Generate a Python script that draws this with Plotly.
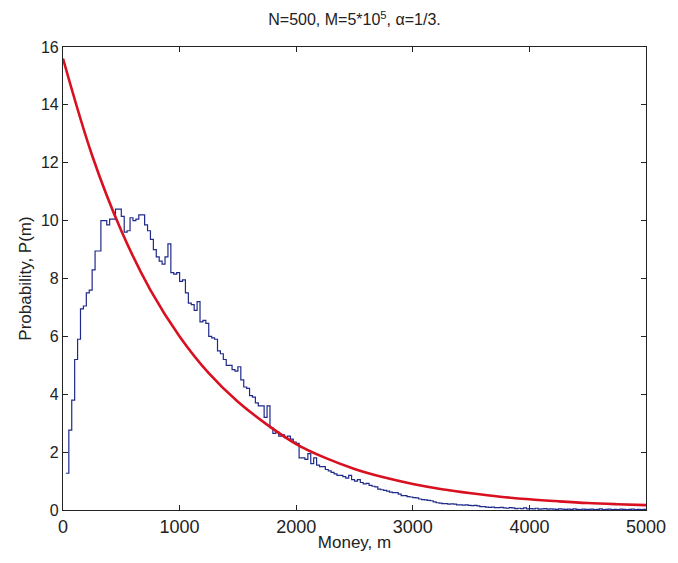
import plotly.graph_objects as go

# Histogram (stairs): bin start (money) and probability values
hist_m = [25 * i for i in range(1, 201)]
hist_p = [
    1.27, 2.76, 3.80, 5.20, 5.90, 6.95, 7.05, 7.50, 7.60, 8.30,
    8.95, 8.95, 10.00, 10.00, 9.85, 10.05, 10.05, 10.40, 10.40, 10.15,
    9.60, 9.65, 10.10, 10.00, 10.05, 10.20, 10.20, 9.85, 9.65, 9.35,
    9.00, 8.75, 8.60, 8.50, 8.75, 9.20, 8.20, 8.15, 8.20, 7.90,
    7.95, 7.50, 7.15, 7.10, 6.90, 7.20, 6.50, 6.55, 6.45, 6.00,
    5.95, 5.90, 5.50, 5.40, 5.20, 5.00, 5.00, 4.85, 4.80, 4.95,
    4.50, 4.25, 4.20, 3.95, 3.90, 3.70, 3.60, 3.60, 3.20, 3.60,
    2.85, 2.65, 2.70, 2.55, 2.60, 2.50, 2.55, 2.45, 2.35, 2.30,
    1.80, 1.80, 1.75, 1.95, 1.60, 1.80, 1.55, 1.50, 1.50, 1.40,
    1.35, 1.30, 1.25, 1.20, 1.20, 1.15, 1.10, 1.20, 1.05, 1.00,
    1.05, 0.95, 0.90, 0.92, 0.85, 0.82, 0.80, 0.72, 0.70, 0.68,
    0.65, 0.62, 0.60, 0.60, 0.55, 0.50, 0.50, 0.46, 0.45, 0.43,
    0.42, 0.38, 0.36, 0.35, 0.33, 0.32, 0.28, 0.25, 0.24, 0.22,
    0.22, 0.20, 0.21, 0.20, 0.18, 0.18, 0.17, 0.18, 0.16, 0.15,
    0.16, 0.14, 0.12, 0.12, 0.10, 0.09, 0.10, 0.08, 0.08, 0.09,
    0.07, 0.06, 0.08, 0.07, 0.05, 0.06, 0.05, 0.07, 0.04, 0.05,
    0.04, 0.06, 0.03, 0.04, 0.05, 0.03, 0.04, 0.03, 0.02, 0.04,
    0.03, 0.02, 0.03, 0.02, 0.04, 0.02, 0.01, 0.03, 0.02, 0.02,
    0.03, 0.01, 0.02, 0.04, 0.01, 0.02, 0.03, 0.01, 0.02, 0.01,
    0.03, 0.02, 0.01, 0.02, 0.03, 0.01, 0.02, 0.01, 0.02, 0.02,
]

# Theoretical curve
fit_m = [0, 250, 500, 750, 1000, 1250, 1500, 1750, 2000, 2250, 2500,
         2750, 3000, 3250, 3500, 3750, 4000, 4250, 4500, 4750, 5000]
fit_p = [15.6, 12.25, 9.65, 7.6, 6.0, 4.73, 3.74, 2.95, 2.28, 1.80, 1.42,
         1.13, 0.90, 0.72, 0.58, 0.46, 0.37, 0.30, 0.24, 0.20, 0.17]

x_ticks = [0, 1000, 2000, 3000, 4000, 5000]
y_ticks = [0, 2, 4, 6, 8, 10, 12, 14, 16]

fig = go.Figure()
fig.add_trace(go.Scatter(x=hist_m, y=hist_p, mode="lines",
                         line=dict(color="#1f2a8a", width=1.2, shape="hv"),
                         showlegend=False))
fig.add_trace(go.Scatter(x=fit_m, y=fit_p, mode="lines",
                         line=dict(color="#d81020", width=2.6, shape="spline", smoothing=1.0),
                         showlegend=False))

font_family = "Liberation Sans, Arial, sans-serif"
fig.update_layout(
    width=678, height=563,
    margin=dict(l=63, r=24, t=47, b=53),
    paper_bgcolor="white", plot_bgcolor="white",
    font=dict(family=font_family, color="#222"),
    title=dict(text="N=500, M=5*10<sup>5</sup>, α=1/3.",
               x=0.5, xref="paper", xanchor="center",
               y=0.975, yref="container", yanchor="top",
               font=dict(size=16, family=font_family, color="#222")),
)
fig.update_xaxes(range=[0, 5000], tickvals=x_ticks,
                 ticks="inside", ticklen=5, tickcolor="#222",
                 showline=True, linecolor="#222", linewidth=1.2, mirror="ticks",
                 showgrid=False, zeroline=False,
                 tickfont=dict(size=18, family=font_family, color="#222"),
                 title=dict(text="Money, m", standoff=0,
                            font=dict(size=17, family=font_family, color="#222")))
fig.update_yaxes(range=[0, 16], tickvals=y_ticks,
                 ticks="inside", ticklen=5, tickcolor="#222",
                 showline=True, linecolor="#222", linewidth=1.2, mirror="ticks",
                 showgrid=False, zeroline=False,
                 tickfont=dict(size=16, family=font_family, color="#222"),
                 title=dict(text="Probability, P(m)", standoff=4,
                            font=dict(size=17, family=font_family, color="#222")))

fig.write_html("out.html")
